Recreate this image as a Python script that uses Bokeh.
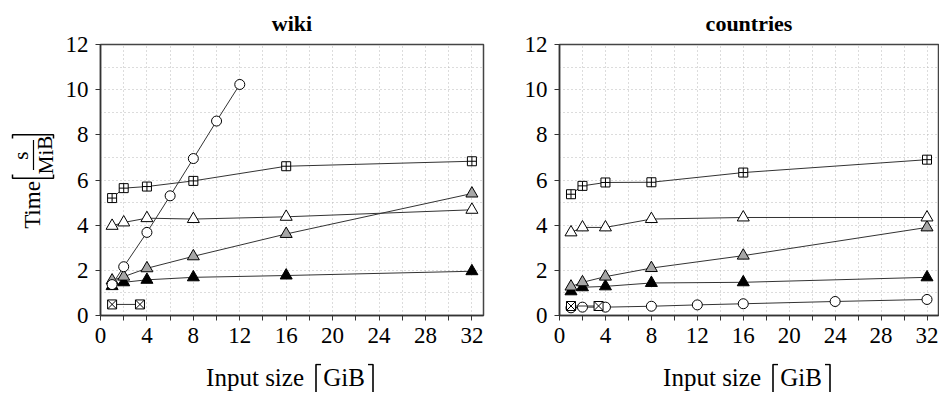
from bokeh.plotting import figure
from bokeh.layouts import row, column
from bokeh.models import Range1d, FixedTicker, ColumnDataSource
from bokeh.core.properties import value
from bokeh.embed import file_html
from bokeh.resources import INLINE

# ---------------- data ----------------
x_ticks = list(range(0, 33, 2))
x_labels_shown = list(range(0, 33, 4))
y_ticks = list(range(0, 13, 2))

sizes6 = [1, 2, 4, 8, 16, 32]

# wiki
wiki_circle_x = [1, 2, 4, 6, 8, 10, 12]
wiki_circle_y = [1.37, 2.16, 3.68, 5.30, 6.95, 8.61, 10.23]
wiki_sqplus_y = [5.20, 5.64, 5.71, 5.96, 6.61, 6.83]
wiki_opentri_y = [3.97, 4.12, 4.31, 4.27, 4.37, 4.68]
wiki_graytri_y = [1.55, 1.72, 2.09, 2.62, 3.61, 5.40]
wiki_blacktri_y = [1.30, 1.47, 1.58, 1.69, 1.77, 1.96]
wiki_sqx_x = [1, 3.4]
wiki_sqx_y = [0.49, 0.49]

# countries
ctry_circle_x = [1, 2, 4, 8, 12, 16, 24, 32]
ctry_circle_y = [0.34, 0.37, 0.37, 0.41, 0.47, 0.52, 0.62, 0.71]
ctry_sqplus_y = [5.37, 5.74, 5.89, 5.90, 6.33, 6.90]
ctry_opentri_y = [3.68, 3.90, 3.90, 4.27, 4.34, 4.34]
ctry_graytri_y = [1.28, 1.47, 1.72, 2.10, 2.65, 3.90]
ctry_blacktri_y = [1.07, 1.25, 1.29, 1.44, 1.47, 1.69]
ctry_sqx_x = [1, 3.4]
ctry_sqx_y = [0.42, 0.42]

titles = ["wiki", "countries"]
x_label_parts = ["Input size", "GiB"]
y_label_parts = ["Time", "s", "MiB"]

FONT = "Liberation Serif"
LINE_C = "#333333"
TOP, FH, BOT = 43, 272, 48
PH = TOP + FH + BOT   # height of the plot row (363)
H = 392               # total height
YW = 62               # width of y-label strip


def make_panel(title, series, fw, left_border, right_border):
    p = figure(width=left_border + fw + right_border, height=PH,
               min_border_left=left_border, min_border_right=right_border,
               min_border_top=TOP, min_border_bottom=BOT,
               x_range=Range1d(0, 33), y_range=Range1d(0, 12),
               output_backend="svg", toolbar_location=None,
               background_fill_color="white", border_fill_color="white",
               title=title)
    p.title.align = "center"
    p.title.text_font = FONT
    p.title.text_font_size = "22px"
    p.title.text_font_style = "bold"
    p.title.text_color = "black"
    p.title.standoff = 17

    p.outline_line_color = "#444444"
    p.outline_line_width = 1.5

    p.xaxis.ticker = FixedTicker(ticks=x_ticks)
    p.xaxis.major_label_overrides = {t: ("" if t not in x_labels_shown else str(t)) for t in x_ticks}
    p.yaxis.ticker = FixedTicker(ticks=y_ticks)

    p.axis.axis_line_color = LINE_C
    p.axis.axis_line_width = 1.5
    p.axis.major_tick_line_color = LINE_C
    p.axis.major_tick_out = 5
    p.axis.major_tick_in = 0
    p.axis.minor_tick_line_color = None
    p.axis.major_label_text_font = FONT
    p.axis.major_label_text_font_size = "23px"
    p.axis.major_label_text_font_style = "normal"
    p.axis.major_label_text_color = "black"
    p.xaxis.major_label_standoff = 7
    p.yaxis.major_label_standoff = 7

    p.xgrid.ticker = FixedTicker(ticks=x_ticks[1:])
    p.ygrid.ticker = FixedTicker(ticks=list(range(1, 12)))
    p.grid.grid_line_color = "#b8b8b8"
    p.grid.grid_line_dash = "1 3"
    p.grid.grid_line_width = 1

    for xs, ys, marker, fill, size in series:
        src = ColumnDataSource(dict(x=xs, y=ys))
        p.line("x", "y", source=src, line_color=LINE_C, line_width=1)
        p.scatter("x", "y", source=src, marker=marker, size=size,
                  fill_color=fill, line_color="black", line_width=1)
    return p


wiki_series = [
    (wiki_sqx_x, wiki_sqx_y, "square_x", "white", 9),
    (sizes6, wiki_blacktri_y, "triangle", "black", 12),
    (sizes6, wiki_graytri_y, "triangle", "#a6a6a6", 12),
    (sizes6, wiki_opentri_y, "triangle", "white", 12),
    (sizes6, wiki_sqplus_y, "square_cross", "white", 9),
    (wiki_circle_x, wiki_circle_y, "circle", "white", 10),
]
ctry_series = [
    (ctry_circle_x, ctry_circle_y, "circle", "white", 10),
    (ctry_sqx_x, ctry_sqx_y, "square_x", "white", 9),
    (sizes6, ctry_blacktri_y, "triangle", "black", 12),
    (sizes6, ctry_graytri_y, "triangle", "#a6a6a6", 12),
    (sizes6, ctry_opentri_y, "triangle", "white", 12),
    (sizes6, ctry_sqplus_y, "square_cross", "white", 9),
]


def strip(w, h, y0, y1):
    f = figure(width=w, height=h, x_range=Range1d(0, w), y_range=Range1d(y1, y0),
               min_border=0, output_backend="svg", toolbar_location=None,
               background_fill_color="white", border_fill_color="white")
    f.axis.visible = False
    f.grid.visible = False
    f.outline_line_color = None
    return f


# --- y-label strip (pixel coordinates of the page) ---
ylab = strip(YW, PH, 0, PH)
ylab.text(x=[32], y=[215], text=[y_label_parts[0]], angle=1.5708,
          text_font=value(FONT), text_font_size="23px", text_align="center",
          text_baseline="middle", text_color="black")
ylab.text(x=[20, 45], y=[149, 148], text=y_label_parts[1:], angle=1.5708,
          text_font=value(FONT), text_font_size="21px", text_align="center",
          text_baseline="middle", text_color="black")
ylab.segment(x0=[33], y0=[128], x1=[33], y1=[168], line_color="black", line_width=1.2)
ylab.multi_line(xs=[[12, 12, 53, 53], [12, 12, 53, 53]],
                ys=[[126, 121, 121, 126], [174, 179, 179, 174]],
                line_color="black", line_width=1.5)

p1 = make_panel(titles[0], wiki_series, 383, 100 - YW, 5)
p2 = make_panel(titles[1], ctry_series, 379, 71, 1)

# --- x-label strip below both panels (page pixel coordinates) ---
TOTAL_W = YW + (100 - YW + 383 + 5) + (71 + 379 + 1)
xlab = strip(TOTAL_W, H - PH, PH, H)
centers = [291.5, 748.5]
for c in centers:
    xlab.text(x=[c + 12], y=[377], text=[x_label_parts[0]],
              text_font=value(FONT), text_font_size="25px", text_align="right",
              text_baseline="alphabetic", text_color="black")
    xlab.text(x=[c + 52], y=[377], text=[x_label_parts[1]],
              text_font=value(FONT), text_font_size="25px", text_align="center",
              text_baseline="alphabetic", text_color="black")
    xlab.multi_line(xs=[[c + 29, c + 24, c + 24], [c + 76, c + 81, c + 81]],
                    ys=[[364, 364, 395], [364, 364, 395]],
                    line_color="black", line_width=1.6)

layout = column(row(ylab, p1, p2), xlab)
open("out.html", "w").write(file_html(layout, INLINE))
